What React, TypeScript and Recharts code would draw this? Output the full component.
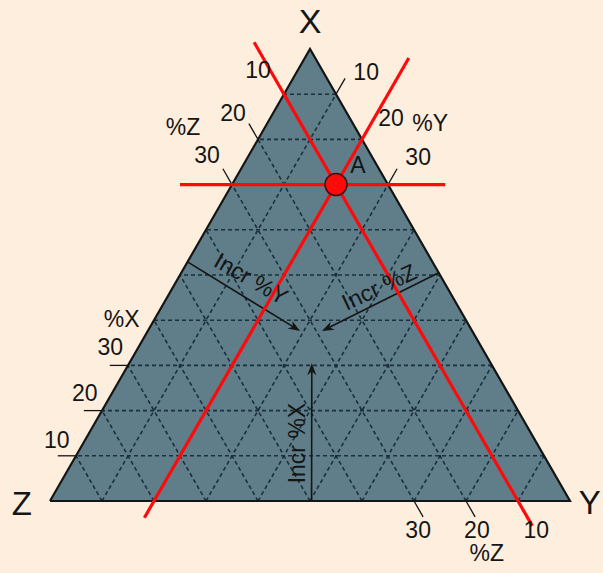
import { Area, ComposedChart, Line, ReferenceDot, ReferenceLine, XAxis, YAxis } from 'recharts';

// Ternary diagram with corners X (top), Z (bottom left) and Y (bottom right).
// Every point below is written as [%X, %Y, %Z].

const GRID_LEVELS = [10, 20, 30, 40, 50, 60, 70, 80, 90];
const TICK_LEVELS = [10, 20, 30];

const CORNERS = [
  [0, 0, 100], // Z
  [100, 0, 0], // X
  [0, 100, 0], // Y
];

// point A and the three constant-composition lines through it
const POINT_A = [70, 20, 10];
const LINE_X70 = [[70, -10, 40], [70, 41, -11]];
const LINE_Y20 = [[98, 20, -18], [-3.7, 20, 83.7]];
const LINE_Z10 = [[101.5, -11.5, 10], [-5.5, 95.5, 10]];

// "Incr" arrows, start and end
const ARROW_Y = [[52.9, 0, 47.1], [37.6, 29.3, 33.1]];
const ARROW_Z = [[50.5, 49.5, 0], [37.6, 33.5, 28.9]];
const ARROW_X = [[0, 50.3, 49.7], [30.5, 35.1, 34.4]];

const FONT = '"Liberation Sans", Arial, Helvetica, sans-serif';
const BG = '#fdeede';
const FILL = '#5f7e89';
const GRID = '#1b2f3c';
const RED = '#ff0a0a';
const INK = '#151515';

const H3 = Math.sqrt(3) / 2;

function toUV(p: number[]) {
  return { u: p[1] + p[0] / 2, v: p[0] * H3 };
}

function seg(a: number[], b: number[]) {
  const p = toUV(a);
  const q = toUV(b);
  return [
    { x: p.u, y: p.v },
    { x: q.u, y: q.v },
  ];
}

function gridSegments() {
  const out: { x: number; y: number }[][] = [];
  GRID_LEVELS.forEach((k) => {
    out.push(seg([k, 100 - k, 0], [k, 0, 100 - k])); // const X
    out.push(seg([0, k, 100 - k], [100 - k, k, 0])); // const Y
    out.push(seg([0, 100 - k, k], [100 - k, 0, k])); // const Z
  });
  return out;
}

function tickSegments() {
  const e = 3.5;
  const out: { x: number; y: number }[][] = [];
  TICK_LEVELS.forEach((k) => {
    out.push(seg([k, 0, 100 - k], [k, -e, 100 - k + e])); // %X, left edge
    out.push(seg([100 - k, 0, k], [100 - k + e, -e, k])); // %Z, left edge
    out.push(seg([100 - k, k, 0], [100 - k + e, k, -e])); // %Y, right edge
    out.push(seg([0, 100 - k, k], [-e, 100 - k + e, k])); // %Z, base
  });
  return out;
}

const triangle = CORNERS.map(toUV);
const outline = [...triangle, triangle[0]];
const redLines = [LINE_X70, LINE_Y20, LINE_Z10].map((l) => l.map(toUV));
const a = toUV(POINT_A);

// text labels, placed in the chart's own (u, v) units
const LABELS = [
  { t: 'X', u: 50.0, v: 91.9, s: 34 },
  { t: 'Z', u: -5.4, v: -0.4, s: 33 },
  { t: 'Y', u: 103.8, v: -0.2, s: 33 },
  { t: '10', u: 40, v: 82.6, s: 23 },
  { t: '20', u: 35.2, v: 74.3, s: 23 },
  { t: '%Z', u: 25.6, v: 71.7, s: 23 },
  { t: '30', u: 30.2, v: 66.3, s: 23 },
  { t: '10', u: 60.8, v: 82.2, s: 23 },
  { t: '20', u: 65.6, v: 73.4, s: 23 },
  { t: '%Y', u: 73.1, v: 72.4, s: 23 },
  { t: '30', u: 70.8, v: 65.9, s: 23 },
  { t: '%X', u: 13.8, v: 34.9, s: 23 },
  { t: '30', u: 11.6, v: 29.6, s: 23 },
  { t: '20', u: 6.7, v: 20.7, s: 23 },
  { t: '10', u: 1.3, v: 11.7, s: 23 },
  { t: '30', u: 70.8, v: -5.6, s: 23 },
  { t: '20', u: 82.1, v: -5.6, s: 23 },
  { t: '10', u: 93.5, v: -5.6, s: 23 },
  { t: '%Z', u: 84, v: -10, s: 23 },
  { t: 'A', u: 59.2, v: 64.4, s: 23 },
  { t: 'Incr %Y', u: 38.7, v: 42.6, s: 23, r: 30 },
  { t: 'Incr %Z', u: 63.3, v: 41.0, s: 23, r: -25 },
  { t: 'Incr %X', u: 47.5, v: 11.1, s: 23, r: -90 },
];

function arrowShape(p: any) {
  const { x1, y1, x2, y2 } = p;
  const ang = Math.atan2(y2 - y1, x2 - x1);
  const c = Math.cos(ang);
  const s = Math.sin(ang);
  const len = 12;
  const half = 4.5;
  const bx = x2 - len * c;
  const by = y2 - len * s;
  const nx = x2 - len * 0.7 * c;
  const ny = y2 - len * 0.7 * s;
  const pts = [
    [x2, y2],
    [bx - half * s, by + half * c],
    [nx, ny],
    [bx + half * s, by - half * c],
  ]
    .map((q) => q.join(','))
    .join(' ');
  return (
    <g>
      <line x1={x1} y1={y1} x2={nx} y2={ny} stroke={INK} strokeWidth={1.6} />
      <polygon points={pts} fill={INK} />
    </g>
  );
}

export default function App() {
  return (
    <div
      style={{
        position: 'absolute',
        left: 0,
        top: 0,
        width: 603,
        height: 573,
        background: BG,
        fontFamily: FONT,
      }}
    >
      <ComposedChart width={603} height={573} margin={{ top: 0, right: 0, bottom: 0, left: 0 }}>
        <XAxis type="number" dataKey="u" domain={[-9.615, 106.346]} allowDataOverflow hide />
        <YAxis type="number" domain={[-13.795, 95.99]} allowDataOverflow hide />

        <Area
          data={triangle}
          dataKey="v"
          type="linear"
          baseValue={0}
          fill={FILL}
          fillOpacity={1}
          stroke="none"
          dot={false}
          activeDot={false}
          isAnimationActive={false}
        />

        {gridSegments().map((s, i) => (
          <ReferenceLine
            key={`g${i}`}
            segment={s}
            ifOverflow="visible"
            stroke={GRID}
            strokeWidth={1.6}
            strokeDasharray="4 3"
          />
        ))}

        <Line
          data={outline}
          dataKey="v"
          type="linear"
          stroke={INK}
          strokeWidth={2.2}
          dot={false}
          activeDot={false}
          isAnimationActive={false}
        />

        {tickSegments().map((s, i) => (
          <ReferenceLine key={`t${i}`} segment={s} ifOverflow="visible" stroke={INK} strokeWidth={1.3} />
        ))}

        {[ARROW_Y, ARROW_Z, ARROW_X].map((ar, i) => (
          <ReferenceLine key={`a${i}`} segment={seg(ar[0], ar[1])} ifOverflow="visible" shape={arrowShape} />
        ))}

        {redLines.map((d, i) => (
          <Line
            key={`r${i}`}
            data={d}
            dataKey="v"
            type="linear"
            stroke={RED}
            strokeWidth={3.2}
            dot={false}
            activeDot={false}
            isAnimationActive={false}
          />
        ))}

        <ReferenceDot x={a.u} y={a.v} r={11} fill={RED} stroke="#3a1414" strokeWidth={1.5} ifOverflow="visible" />

        {LABELS.map((l, i) => (
          <ReferenceDot
            key={`l${i}`}
            x={l.u}
            y={l.v}
            r={0}
            ifOverflow="visible"
            shape={(p: any) => (
              <text
                x={p.cx}
                y={p.cy}
                textAnchor="middle"
                dominantBaseline="central"
                fontFamily={FONT}
                fontSize={l.s}
                fill={INK}
                transform={l.r ? `rotate(${l.r} ${p.cx} ${p.cy})` : undefined}
              >
                {l.t}
              </text>
            )}
          />
        ))}
      </ComposedChart>
    </div>
  );
}
